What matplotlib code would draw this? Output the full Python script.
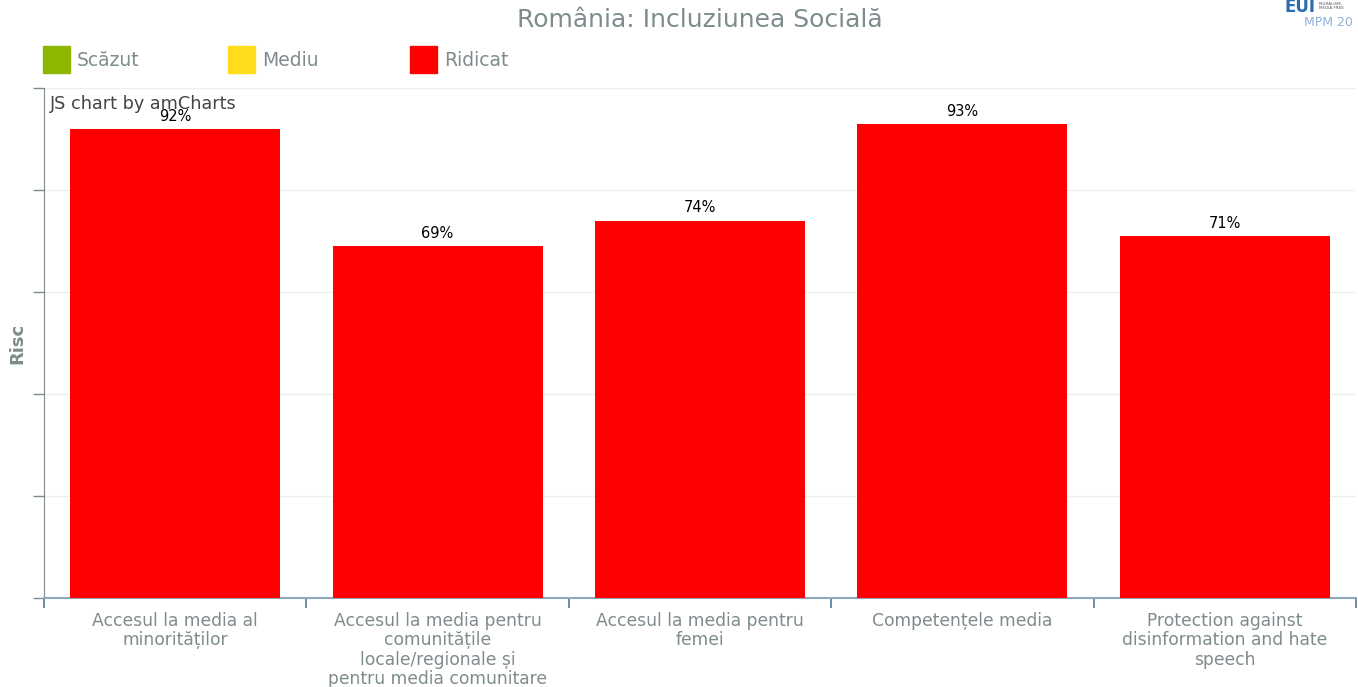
import numpy as np
import matplotlib.pyplot as plt
from matplotlib.patches import Rectangle

# data
categories = [
    "Accesul la media al\nminorităților",
    "Accesul la media pentru\ncomunitățile\nlocale/regionale și\npentru media comunitare",
    "Accesul la media pentru\nfemei",
    "Competențele media",
    "Protection against\ndisinformation and hate\nspeech",
]
risk = [92, 69, 74, 93, 71]
legend_labels = ["Scăzut", "Mediu", "Ridicat"]
legend_colors = ["#8db600", "#ffdd1a", "#ff0000"]

W, H = 1358, 687
fig = plt.figure(figsize=(W / 100, H / 100), dpi=100)
ax = fig.add_axes([44 / W, 1 - 598 / H, (1356 - 44) / W, (598 - 88) / H])

x = np.arange(len(categories))
ax.bar(x, risk, width=0.8, color="#ff0000", zorder=3)
for xi, v in zip(x, risk):
    ax.text(xi, v + 1.0, f"{v}%", ha="center", va="bottom", fontsize=10.5, color="#000000", zorder=4)

ax.set_xlim(-0.5, len(categories) - 0.5)
ax.set_ylim(0, 100)
ax.set_yticks(np.arange(0, 101, 20))
ax.set_yticklabels([])
ax.yaxis.grid(True, color="#eeeeee", linewidth=1, zorder=0)
ax.tick_params(axis="y", length=8, color="#7f8c8d", width=1)

ax.set_xticks(x)
ax.set_xticklabels(categories, fontsize=12.3, color="#7f8c8d", linespacing=1.1, va="top")
ax.set_xticks(np.arange(-0.5, len(categories)), minor=True)
ax.tick_params(axis="x", which="major", length=0, pad=10)
ax.tick_params(axis="x", which="minor", length=7, color="#4b7a9b", width=1.2)

for s in ["top", "right"]:
    ax.spines[s].set_visible(False)
ax.spines["left"].set_color("#7f8c8d")
ax.spines["bottom"].set_color("#90a8bc")
ax.spines["bottom"].set_linewidth(1.5)

fig.text(17 / W, 1 - 343 / H, "Risc", rotation=90, ha="center", va="center",
         fontsize=13, fontweight="bold", color="#7f8c8d")

fig.text(700 / W, 1 - 20 / H, "România: Incluziunea Socială", ha="center", va="center",
         fontsize=18, color="#7f8c8d")
fig.text(50 / W, 1 - 104 / H, "JS chart by amCharts", ha="left", va="center",
         fontsize=12.7, color="#444444")

# legend
leg_x = [43, 228, 410]
for lx, lab, col in zip(leg_x, legend_labels, legend_colors):
    fig.patches.append(Rectangle((lx / W, 1 - 73 / H), 27 / W, 27 / H,
                                 transform=fig.transFigure, color=col))
    fig.text((lx + 34) / W, 1 - 60 / H, lab, ha="left", va="center", fontsize=13.5, color="#7f8c8d")

# logo corner
fig.text(1284 / W, 1 - 7 / H, "EUI", ha="left", va="center", fontsize=12, fontweight="bold", color="#2b6cb0")
fig.text(1319 / W, 1 - 6 / H, "PLURALISM,\nMEDIA FREE", ha="left", va="center", fontsize=3,
         color="#555555", linespacing=1.0)
fig.text(1304 / W, 1 - 22 / H, "MPM 20", ha="left", va="center", fontsize=9, color="#8fb3d9")

fig.savefig("out.png", dpi=100)
